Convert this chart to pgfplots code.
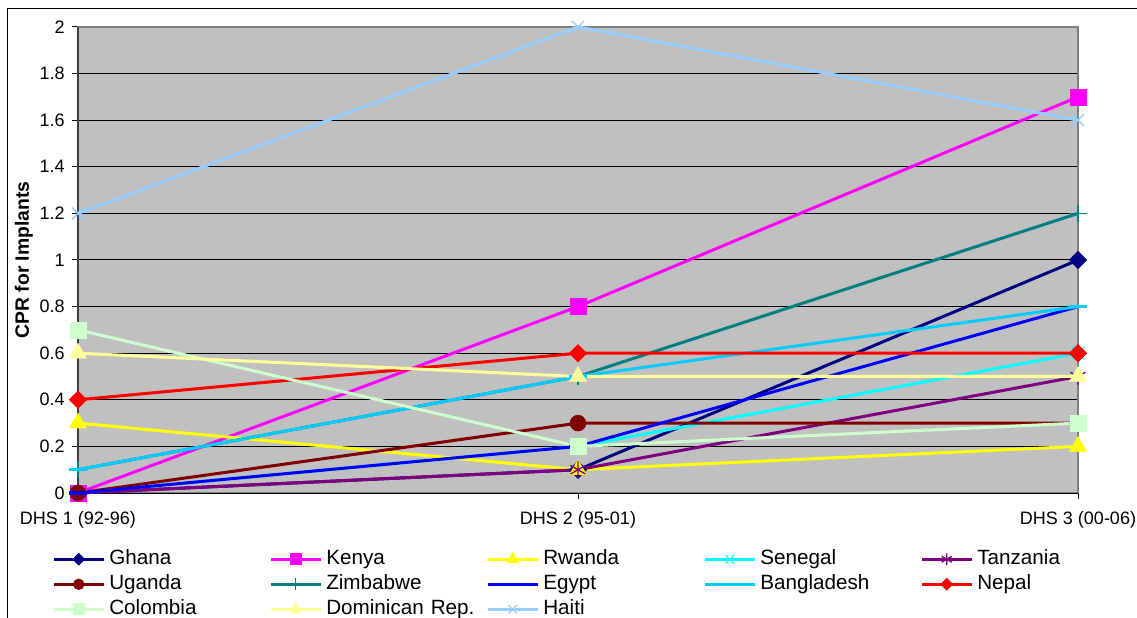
\documentclass[border=0pt]{standalone}
\usepackage{fontspec}
\setmainfont{Liberation Sans}
\usepackage{pgfplots}
\pgfplotsset{compat=1.18}
\definecolor{cGhana}{HTML}{000080}
\definecolor{cKenya}{HTML}{FF00FF}
\definecolor{cRwanda}{HTML}{FFFF00}
\definecolor{cSenegal}{HTML}{00FFFF}
\definecolor{cTanzania}{HTML}{800080}
\definecolor{cUganda}{HTML}{800000}
\definecolor{cZimbabwe}{HTML}{008080}
\definecolor{cEgypt}{HTML}{0000FF}
\definecolor{cBangladesh}{HTML}{00CCFF}
\definecolor{cNepal}{HTML}{FF0000}
\definecolor{cColombia}{HTML}{CCFFCC}
\definecolor{cDominican}{HTML}{FFFF99}
\definecolor{cHaiti}{HTML}{99CCFF}
\definecolor{cBG}{HTML}{C0C0C0}
\definecolor{cBorder}{HTML}{808080}
\begin{document}
\begin{tikzpicture}[x=1pt,y=1pt]
\useasboundingbox (0,0) rectangle (852.75,462.75);
\draw[line width=0.75pt, black] (5.6,-5) -- (5.6,456.4) -- (870,456.4);
\begin{axis}[
 at={(58.5pt,93pt)}, anchor=south west,
 scale only axis, width=750pt, height=349.5pt,
 xmin=0, xmax=2, ymin=0, ymax=2,
 clip=false,
 axis background/.style={fill=cBG},
 axis line style={draw=cBorder, line width=1.5pt},
 ymajorgrids, major grid style={draw=black, line width=0.75pt},
 xtick={0,1,2}, xticklabels={DHS 1 (92-96), DHS 2 (95-01), DHS 3 (00-06)},
 ytick={0,0.2,0.4,0.6,0.8,1,1.2,1.4,1.6,1.8,2},
 yticklabels={0,0.2,0.4,0.6,0.8,1,1.2,1.4,1.6,1.8,2},
 /pgf/number format/assume math mode=true,
 tick pos=left, tick align=outside, major tick length=4.5pt,
 tick style={draw=black, line width=0.75pt},
 ticklabel style={font=\fontsize{13.5}{16}\selectfont},
 xticklabel style={yshift=-6pt},
 yticklabel style={xshift=-2pt},
 ylabel={CPR for Implants},
 ylabel style={font=\fontsize{14.5}{17}\selectfont\bfseries, at={(axis description cs:-0.054,0.5)}, anchor=center},
 legend columns=5,
 legend style={at={(axis description cs:-0.026,-0.1148)}, anchor=north west, draw=none, fill=none,
   font=\fontsize{15.5}{18}\selectfont, inner sep=0pt, column sep=0pt, row sep=0pt,
   nodes={inner xsep=3pt, inner ysep=2.125pt, text width=117pt, align=left, text height=11pt, text depth=3.5pt}},
 legend image code/.code={\draw[mark repeat=2,mark phase=2,#1, every mark/.append style={scale=0.68}] plot coordinates {(0pt,0pt) (18.75pt,0pt) (37.5pt,0pt)};},
]
\draw[line width=2pt, draw=black!75] (axis cs:0,0) -- (axis cs:0,2);
\draw[line width=0.75pt, draw=black] (axis cs:0,0) -- (axis cs:2,0);
\addplot[line width=2.25pt, color=cGhana, mark=square*, mark size=4.6pt, mark options={solid, rotate=45, line width=0.5pt, fill=cGhana}] coordinates {(0,0) (1,0.1) (2,1.0)};
\addlegendentry{Ghana}
\addplot[line width=2.25pt, color=cKenya, mark=square*, mark size=6pt, mark options={solid, line width=0.5pt, fill=cKenya}] coordinates {(0,0) (1,0.8) (2,1.7)};
\addlegendentry{Kenya}
\addplot[line width=2.25pt, color=cRwanda, mark=triangle*, mark size=7.3pt, mark options={solid, line width=0.5pt, fill=cRwanda}] coordinates {(0,0.3) (1,0.1) (2,0.2)};
\addlegendentry{Rwanda}
\addplot[line width=2.25pt, color=cSenegal, mark=x, mark size=6.5pt, mark options={solid, line width=1pt}] coordinates {(0,0) (1,0.2) (2,0.6)};
\addlegendentry{Senegal}
\addplot[line width=2.25pt, color=cTanzania, mark=asterisk, mark size=6.5pt, mark options={solid, line width=1pt}] coordinates {(0,0) (1,0.1) (2,0.5)};
\addlegendentry{Tanzania}
\addplot[line width=2.25pt, color=cUganda, mark=*, mark size=5.9pt, mark options={solid, line width=0.5pt, fill=cUganda}] coordinates {(0,0) (1,0.3) (2,0.3)};
\addlegendentry{Uganda}
\addplot[line width=2.25pt, color=cZimbabwe, mark=+, mark size=6.5pt, mark options={solid, line width=1pt}] coordinates {(0,0.1) (1,0.5) (2,1.2)};
\addlegendentry{Zimbabwe}
\addplot[line width=2.25pt, color=cEgypt, mark=-, mark size=6.5pt, mark options={solid, line width=2.5pt}] coordinates {(0,0) (1,0.2) (2,0.8)};
\addlegendentry{Egypt}
\addplot[line width=2.25pt, color=cBangladesh, mark=-, mark size=6.5pt, mark options={solid, line width=2.5pt}] coordinates {(0,0.1) (1,0.5) (2,0.8)};
\addlegendentry{Bangladesh}
\addplot[line width=2.25pt, color=cNepal, mark=square*, mark size=4.6pt, mark options={solid, rotate=45, line width=0.5pt, fill=cNepal}] coordinates {(0,0.4) (1,0.6) (2,0.6)};
\addlegendentry{Nepal}
\addplot[line width=2.25pt, color=cColombia, mark=square*, mark size=6pt, mark options={solid, line width=0.5pt, fill=cColombia}] coordinates {(0,0.7) (1,0.2) (2,0.3)};
\addlegendentry{Colombia}
\addplot[line width=2.25pt, color=cDominican, mark=triangle*, mark size=7.3pt, mark options={solid, line width=0.5pt, fill=cDominican}] coordinates {(0,0.6) (1,0.5) (2,0.5)};
\addlegendentry{Dominican Rep.}
\addplot[line width=2.25pt, color=cHaiti, mark=x, mark size=6.5pt, mark options={solid, line width=1pt}] coordinates {(0,1.2) (1,2.0) (2,1.6)};
\addlegendentry{Haiti}
\end{axis}
\end{tikzpicture}
\end{document}
